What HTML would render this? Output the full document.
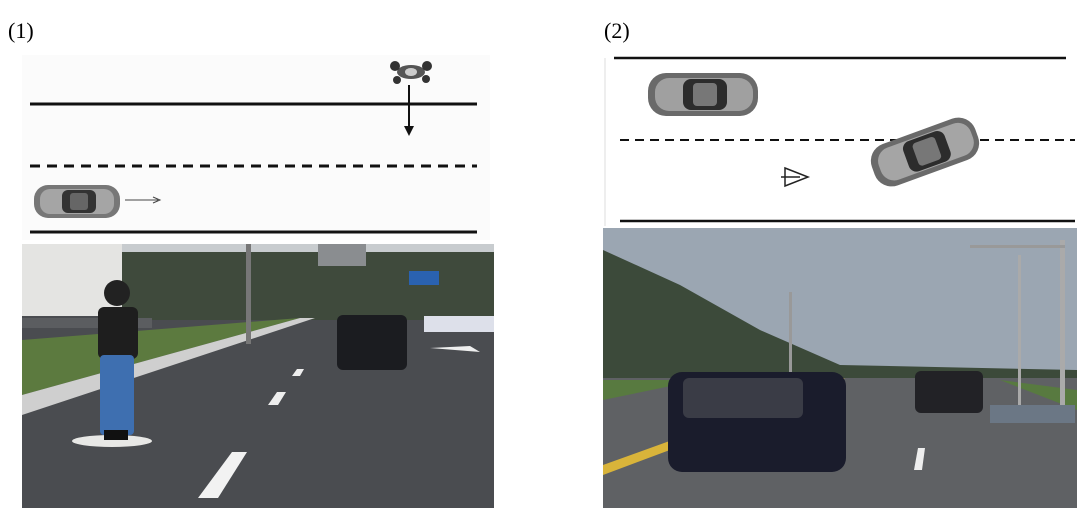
<!DOCTYPE html>
<html><head><style>
html,body{margin:0;padding:0;background:#fff;width:1080px;height:513px;overflow:hidden}
svg{display:block}
</style></head><body>
<svg width="1080" height="513" viewBox="0 0 1080 513" xmlns="http://www.w3.org/2000/svg">
<text x="8" y="38" font-family="Liberation Serif, serif" font-size="22">(1)</text>
<text x="604" y="38" font-family="Liberation Serif, serif" font-size="22">(2)</text>
<!-- left diagram -->
<rect x="22" y="55" width="468" height="185" fill="#fbfbfb"/>
<line x1="30" y1="104" x2="477" y2="104" stroke="#111" stroke-width="3"/>
<line x1="30" y1="166" x2="477" y2="166" stroke="#111" stroke-width="3" stroke-dasharray="10,7"/>
<line x1="30" y1="232" x2="477" y2="232" stroke="#111" stroke-width="3"/>
<g>
<rect x="34" y="185" width="86" height="33" rx="14" fill="#777"/>
<rect x="40" y="189" width="74" height="25" rx="10" fill="#a5a5a5"/>
<rect x="62" y="190" width="34" height="23" rx="6" fill="#333"/>
<rect x="70" y="193" width="18" height="17" rx="3" fill="#666"/>
</g>
<line x1="125" y1="200" x2="158" y2="200" stroke="#444" stroke-width="1"/>
<path d="M153,197 L160,200 L153,203" fill="none" stroke="#444"/>
<g fill="#333">
<ellipse cx="411" cy="72" rx="14" ry="7" fill="#555"/>
<circle cx="395" cy="66" r="5"/><circle cx="427" cy="66" r="5"/>
<circle cx="397" cy="80" r="4"/><circle cx="426" cy="79" r="4"/>
<ellipse cx="411" cy="72" rx="6" ry="4" fill="#ccc"/>
</g>
<line x1="409" y1="85" x2="409" y2="130" stroke="#111" stroke-width="2"/>
<path d="M404,126 L409,136 L414,126 Z" fill="#111"/>
<!-- left photo -->
<rect x="22" y="244" width="472" height="264" fill="#4a4c50"/>
<rect x="22" y="244" width="472" height="12" fill="#c8cccf"/>
<rect x="120" y="252" width="374" height="68" fill="#3f4a3c"/>
<rect x="22" y="244" width="100" height="72" fill="#e4e4e2"/>
<rect x="22" y="318" width="130" height="10" fill="#5b5d60"/>
<polygon points="22,340 300,318 22,395" fill="#5c7a3f"/>
<polygon points="22,395 300,318 315,318 22,415" fill="#cfcfcf"/>
<rect x="246" y="244" width="5" height="100" fill="#777"/>
<rect x="318" y="244" width="48" height="22" fill="#8a8d90"/>
<rect x="409" y="271" width="30" height="14" fill="#2a62b0"/>
<rect x="424" y="316" width="70" height="16" fill="#dde0ea"/>
<rect x="337" y="315" width="70" height="55" rx="6" fill="#1b1c20"/>
<polygon points="198,498 218,498 247,452 232,452" fill="#f2f2f2"/>
<polygon points="268,405 278,405 286,392 277,392" fill="#eee"/>
<polygon points="292,376 300,376 304,369 297,369" fill="#eee"/>
<polygon points="430,348 480,352 470,346" fill="#eee"/>
<ellipse cx="112" cy="441" rx="40" ry="6" fill="#e8e8e6"/>
<circle cx="117" cy="293" r="13" fill="#222"/>
<rect x="98" y="307" width="40" height="52" rx="6" fill="#1e1e1e"/>
<rect x="100" y="355" width="34" height="80" rx="4" fill="#3e6fb0"/>
<rect x="104" y="430" width="24" height="10" fill="#111"/>
<!-- right diagram -->
<line x1="605" y1="58" x2="605" y2="226" stroke="#ddd" stroke-width="1"/>
<line x1="614" y1="58" x2="1066" y2="58" stroke="#111" stroke-width="2.5"/>
<line x1="620" y1="140" x2="1075" y2="140" stroke="#111" stroke-width="2" stroke-dasharray="9,6"/>
<line x1="620" y1="221" x2="1075" y2="221" stroke="#111" stroke-width="2.5"/>
<g>
<rect x="648" y="73" width="110" height="43" rx="18" fill="#6a6a6a"/>
<rect x="655" y="78" width="98" height="33" rx="14" fill="#a0a0a0"/>
<rect x="683" y="79" width="44" height="31" rx="8" fill="#2c2c2c"/>
<rect x="693" y="83" width="24" height="23" rx="4" fill="#777"/>
</g>
<g transform="rotate(-20 925 152)">
<rect x="870" y="130" width="110" height="44" rx="18" fill="#6a6a6a"/>
<rect x="877" y="135" width="98" height="34" rx="14" fill="#a5a5a5"/>
<rect x="905" y="136" width="44" height="32" rx="8" fill="#2c2c2c"/>
<rect x="915" y="140" width="24" height="24" rx="4" fill="#777"/>
</g>
<path d="M785,168 L808,177 L785,186 Z" fill="none" stroke="#222" stroke-width="1.5"/>
<line x1="781" y1="177" x2="800" y2="177" stroke="#222" stroke-width="1.5"/>
<!-- right photo -->
<rect x="603" y="228" width="474" height="280" fill="#5f6164"/>
<rect x="603" y="228" width="474" height="148" fill="#9ba6b2"/>
<polygon points="603,250 680,285 760,330 840,365 1077,370 1077,378 603,378" fill="#3c4a3a"/>
<polygon points="603,380 700,380 603,400" fill="#587a40"/>
<polygon points="1000,380 1077,390 1077,410" fill="#587a40"/>
<rect x="1060" y="240" width="5" height="165" fill="#aaa"/>
<rect x="970" y="245" width="95" height="3" fill="#999"/>
<rect x="1018" y="255" width="3" height="150" fill="#aaa"/>
<rect x="789" y="292" width="3" height="85" fill="#999"/>
<polygon points="603,465 700,430 840,378 845,378 710,435 603,475" fill="#d9b43a"/>
<rect x="668" y="372" width="178" height="100" rx="14" fill="#1a1c2c"/>
<rect x="683" y="378" width="120" height="40" rx="6" fill="#3a3c46"/>
<rect x="915" y="371" width="68" height="42" rx="6" fill="#222226"/>
<rect x="990" y="405" width="85" height="18" fill="#6b7785"/>
<polygon points="914,470 922,470 925,448 918,448" fill="#eee"/>
</svg>
</body></html>
